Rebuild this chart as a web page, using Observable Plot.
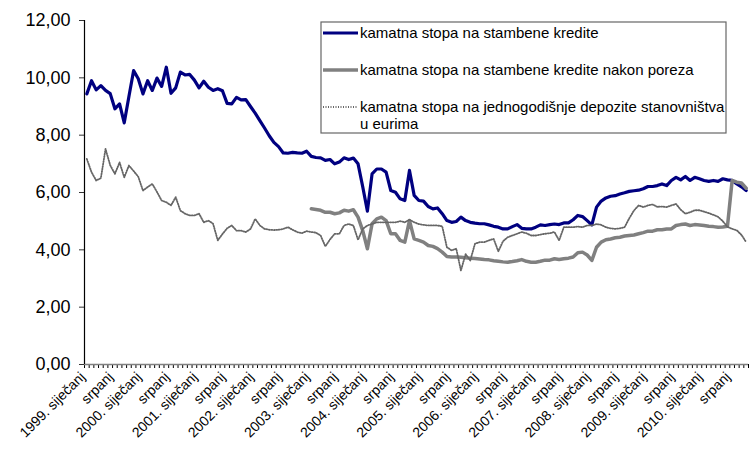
<!DOCTYPE html>
<html><head><meta charset="utf-8">
<script src="https://cdn.jsdelivr.net/npm/d3@7"></script>
<script src="https://cdn.jsdelivr.net/npm/@observablehq/plot@0.6"></script>
<style>body{margin:0;background:#fff;} #chart{position:relative;width:749px;height:452px;}</style>
</head><body><div id="chart"></div>
<script>
const seriesNames = [
  "kamatna stopa na stambene kredite",
  "kamatna stopa na stambene kredite nakon poreza",
  ["kamatna stopa na jednogodišnje depozite stanovništva", "u eurima"]
];
// monthly, 1999-01 .. 2010-10 (142 months); labels every 6 months
const tickLabels = [
  "1999. siječanj","srpanj","2000. siječanj","srpanj","2001. siječanj","srpanj",
  "2002. siječanj","srpanj","2003. siječanj","srpanj","2004. siječanj","srpanj",
  "2005. siječanj","srpanj","2006. siječanj","srpanj","2007. siječanj","srpanj",
  "2008. siječanj","srpanj","2009. siječanj","srpanj","2010. siječanj","srpanj"
];
const housingRate = [
  9.44,9.90,9.58,9.73,9.56,9.45,8.92,9.09,8.43,9.35,
  10.25,9.97,9.44,9.90,9.56,9.99,9.70,10.37,9.46,9.65,
  10.20,10.10,10.12,9.92,9.65,9.88,9.67,9.56,9.62,9.55,
  9.11,9.09,9.32,9.23,9.24,9.00,8.77,8.51,8.25,7.98,
  7.75,7.60,7.38,7.37,7.40,7.38,7.37,7.44,7.26,7.22,
  7.21,7.12,7.15,7.00,7.06,7.21,7.15,7.20,7.00,6.20,
  5.35,6.65,6.82,6.82,6.71,6.07,6.01,5.78,5.72,6.77,
  5.90,5.72,5.70,5.51,5.43,5.46,5.26,5.02,4.96,4.99,
  5.14,5.02,4.96,4.93,4.91,4.91,4.87,4.82,4.79,4.73,
  4.73,4.81,4.88,4.75,4.73,4.73,4.79,4.87,4.85,4.88,
  4.90,4.88,4.94,4.94,5.05,5.20,5.16,5.02,4.87,5.49,
  5.70,5.81,5.87,5.89,5.95,5.99,6.04,6.06,6.08,6.13,
  6.21,6.21,6.24,6.30,6.24,6.42,6.53,6.44,6.56,6.42,
  6.53,6.48,6.42,6.39,6.42,6.39,6.48,6.44,6.42,6.30,
  6.20,6.07
];
const afterTaxRate = [
  null,null,null,null,null,null,null,null,null,null,
  null,null,null,null,null,null,null,null,null,null,
  null,null,null,null,null,null,null,null,null,null,
  null,null,null,null,null,null,null,null,null,null,
  null,null,null,null,null,null,null,null,
  5.43,5.41,5.38,5.31,5.31,5.26,5.29,5.38,5.35,5.40,
  5.14,4.67,4.04,4.91,5.08,5.14,5.02,4.56,4.56,4.33,
  4.27,5.02,4.38,4.33,4.27,4.15,4.12,4.04,3.92,3.77,
  3.75,3.75,3.74,3.72,3.71,3.70,3.68,3.66,3.65,3.62,
  3.60,3.58,3.57,3.59,3.62,3.66,3.60,3.57,3.57,3.60,
  3.64,3.64,3.69,3.66,3.69,3.71,3.75,3.90,3.92,3.82,
  3.63,4.09,4.27,4.35,4.38,4.42,4.44,4.48,4.50,4.52,
  4.56,4.60,4.65,4.65,4.70,4.70,4.73,4.73,4.85,4.88,
  4.90,4.85,4.88,4.87,4.85,4.82,4.81,4.79,4.80,4.82,
  6.42,6.36,6.33,6.15
];
const depositRate = [
  7.17,6.71,6.42,6.50,7.52,6.95,6.65,7.05,6.53,6.94,
  6.75,6.55,6.07,6.19,6.30,6.02,5.72,5.66,5.55,5.84,
  5.37,5.26,5.20,5.20,5.26,4.96,5.02,4.91,4.33,4.55,
  4.75,4.85,4.67,4.67,4.62,4.73,5.08,4.85,4.73,4.70,
  4.69,4.70,4.73,4.79,4.70,4.62,4.58,4.65,4.62,4.60,
  4.50,4.12,4.36,4.56,4.56,4.85,4.90,4.85,4.35,4.73,
  4.85,4.90,4.96,4.96,4.96,4.96,4.96,5.00,4.96,5.05,
  4.96,4.90,4.87,4.85,4.85,4.85,4.82,4.09,3.98,4.04,
  3.28,3.85,3.63,4.21,4.27,4.27,4.33,4.38,3.95,4.30,
  4.44,4.50,4.56,4.62,4.58,4.50,4.50,4.53,4.56,4.58,
  4.62,4.33,4.79,4.79,4.79,4.81,4.79,4.85,4.85,4.90,
  4.87,4.79,4.75,4.73,4.75,4.79,5.10,5.37,5.55,5.49,
  5.55,5.58,5.50,5.51,5.49,5.55,5.60,5.40,5.26,5.31,
  5.38,5.38,5.33,5.28,5.22,5.15,5.00,4.80,4.73,4.68,
  4.52,4.27
];

const N = housingRate.length;
const toRows = arr => arr.map((v, i) => ({i, value: v}));
const labelRows = tickLabels.map((t, k) => ({i: k * 6, label: t}));

const plot = Plot.plot({
  width: 749, height: 452,
  marginLeft: 84, marginRight: 1, marginTop: 20, marginBottom: 88,
  style: {fontFamily: "'Liberation Sans', Arial, sans-serif", background: "white", color: "black"},
  x: {type: "linear", domain: [0, N]},
  y: {domain: [0, 12]},
  marks: [
    Plot.axisY({ticks: d3.range(0, 13, 2), tickSize: 5, tickPadding: 9, fontSize: 18,
      tickFormat: d => d.toFixed(2).replace(".", ","), label: null, stroke: "#333"}),
    Plot.axisX({ticks: d3.range(0, N + 1), tickSize: 4, tickFormat: () => "", label: null}),
    Plot.ruleY([0], {stroke: "#808080", strokeWidth: 1.5}),
    Plot.ruleX([0], {stroke: "#000", strokeWidth: 1.2}),
    Plot.line(toRows(housingRate), {x: d => d.i + 0.5, y: "value", stroke: "#000080", strokeWidth: 3.2, strokeLinejoin: "round"}),
    Plot.line(toRows(afterTaxRate), {x: d => d.i + 0.5, y: "value", defined: d => d.value != null, stroke: "#808080", strokeWidth: 3.5}),
    Plot.line(toRows(depositRate), {x: d => d.i + 0.5, y: "value", stroke: "#666", strokeWidth: 1.8, strokeDasharray: "1,1.5"}),
    Plot.text(labelRows, {x: d => d.i + 0.5, y: () => 0, text: "label", rotate: -45, textAnchor: "end",
      lineAnchor: "middle", fontSize: 14, dx: -4, dy: 10, fill: "black"})
  ]
});
document.getElementById("chart").appendChild(plot);

// legend inside the plot area
const svg = d3.select(plot);
const lg = svg.append("g").attr("font-family", "'Liberation Sans', Arial, sans-serif")
  .attr("font-size", 15).attr("text-anchor", "start");
lg.append("rect").attr("x", 321).attr("y", 22).attr("width", 405).attr("height", 111)
  .attr("fill", "white").attr("stroke", "#666").attr("stroke-width", 1.2);
const styles = [
  {stroke: "#000080", w: 3.2, dash: null},
  {stroke: "#808080", w: 3.5, dash: null},
  {stroke: "#666", w: 1.8, dash: "1,1.5"}
];
const rowY = [33, 70, 107];
seriesNames.forEach((name, k) => {
  const s = styles[k];
  const ln = lg.append("line").attr("x1", 323).attr("x2", 358).attr("y1", rowY[k]).attr("y2", rowY[k])
    .attr("stroke", s.stroke).attr("stroke-width", s.w);
  if (s.dash) ln.attr("stroke-dasharray", s.dash);
  const lines = Array.isArray(name) ? name : [name];
  lines.forEach((t, j) => {
    lg.append("text").attr("x", 360).attr("y", rowY[k] + j * 17).attr("dy", "0.35em")
      .attr("text-anchor", "start").attr("fill", "black").text(t);
  });
});
</script>
</body></html>
